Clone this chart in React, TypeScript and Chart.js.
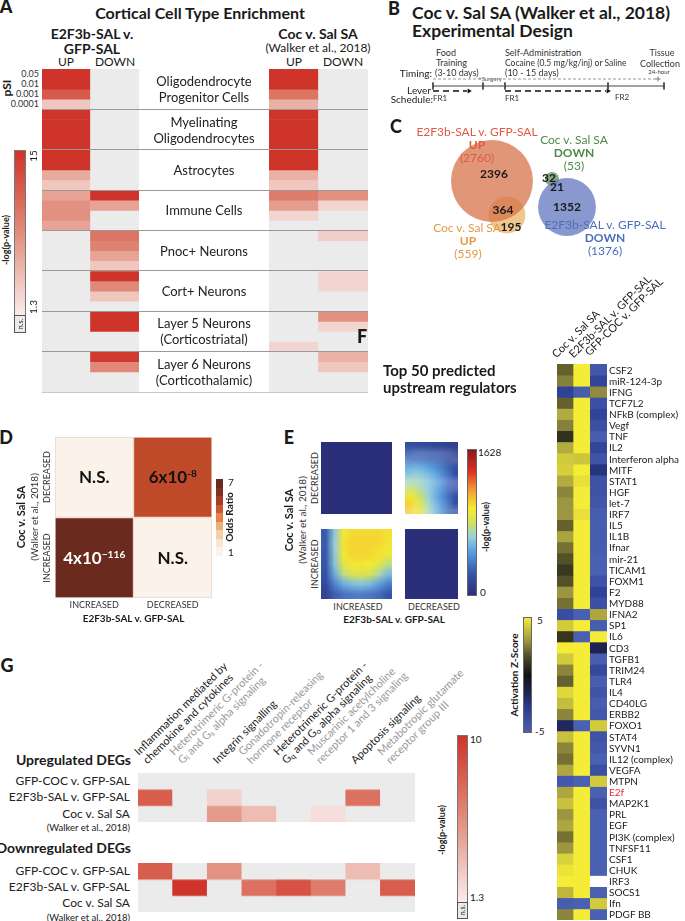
import React, { useEffect, useRef } from "react";
import { Chart, registerables } from "chart.js";
Chart.register(...registerables);

// ================= DATA =================
const N = null;
// Panel A: -log(p) per pSI level (0.05, 0.01, 0.001, 0.0001) for each cell type
const cellTypes = [
  "Oligodendrocyte\nProgenitor Cells",
  "Myelinating\nOligodendrocytes",
  "Astrocytes",
  "Immune Cells",
  "Pnoc+ Neurons",
  "Cort+ Neurons",
  "Layer 5 Neurons\n(Corticostriatal)",
  "Layer 6 Neurons\n(Corticothalamic)",
];
const psiLevels = ["0.05", "0.01", "0.001", "0.0001"];
const e2f3bUp = [15, 15, 12, 4, 15, 15, 15, 15, 15, 15, 6, 4, 6.5, 8, 8, 6.5, N, N, N, N, N, N, N, N, N, N, N, N, N, N, N, N];
const e2f3bDown = [N, N, N, N, N, N, N, N, N, N, N, N, 15, 6.5, N, N, 10, 9, 6.5, 4, 15, 8.5, 4, N, 15, 15, N, N, 14.5, 8.5, N, N];
const cocUp = [15, 15, 10, 5.5, 15, 15, 15, 15, 15, 15, 5.5, 4, 9.5, 7, 3, N, N, N, N, N, N, N, N, N, N, N, N, 3, N, N, N, N];
const cocDown = [N, N, N, N, N, N, N, N, N, N, N, N, 8, 3, N, N, 3.5, N, N, N, 3, 3, N, N, 8, 3, N, N, 5.5, 4, N, N];

// Panel B timeline (schematic units)
const timelineMarks = [0, 50, 72, 175, 231];
const timingSpan = [0, 225];
const leverRuns = [[0, 36], [72, 175]];

// Panel C Venn
const vennTotals = [2760, 559, 1376, 53];
const vennX = [52, 67, 127, 112];
const vennY = [56, 90, 82, 54];

// Panel D
const dRowLabels = ["DECREASED", "INCREASED"];
const dColLabels = ["INCREASED", "DECREASED"];
const oddsRatio = [
  [1, 5],
  [7, 1],
];
const overlapP = [
  ["N.S.", "6x10^-8"],
  ["4x10^\u2212116", "N.S."],
];

// Panel E RRHO (-log p, max 1628)
const rrhoDecInc = [[0]];
const rrhoIncDec = [[0]];
const rrhoDecDec = [
  [200, 200, 180, 170, 160, 150, 120, 100],
  [330, 330, 320, 300, 280, 250, 200, 150],
  [540, 560, 540, 500, 450, 380, 300, 200],
  [650, 660, 630, 590, 520, 430, 330, 220],
  [780, 770, 700, 630, 540, 440, 340, 220],
  [950, 900, 780, 660, 560, 450, 340, 220],
  [1050, 1000, 850, 700, 570, 450, 330, 210],
  [1080, 1020, 860, 690, 550, 430, 310, 200],
];
const rrhoIncInc = [
  [250, 620, 980, 1020, 1020, 1020, 1020, 1000],
  [250, 640, 1000, 1030, 1030, 1030, 1020, 990],
  [240, 620, 980, 1030, 1030, 1020, 990, 930],
  [230, 600, 900, 980, 990, 970, 900, 760],
  [210, 520, 760, 850, 870, 830, 720, 580],
  [170, 380, 520, 580, 600, 560, 480, 380],
  [120, 250, 320, 350, 360, 340, 300, 230],
  [60, 120, 150, 160, 160, 150, 130, 100],
];

// Panel F
const fColumns = ["Coc v. Sal SA", "E2F3b-SAL v. GFP-SAL", "GFP-COC v. GFP-SAL"];
const regulators = [
  "CSF2", "miR-124-3p", "IFNG", "TCF7L2", "NFkB (complex)", "Vegf", "TNF", "IL2", "Interferon alpha", "MITF",
  "STAT1", "HGF", "let-7", "IRF7", "IL5", "IL1B", "Ifnar", "mir-21", "TICAM1", "FOXM1",
  "F2", "MYD88", "IFNA2", "SP1", "IL6", "CD3", "TGFB1", "TRIM24", "TLR4", "IL4",
  "CD40LG", "ERBB2", "FOXO1", "STAT4", "SYVN1", "IL12 (complex)", "VEGFA", "MTPN", "E2f", "MAP2K1",
  "PRL", "EGF", "PI3K (complex)", "TNFSF11", "CSF1", "CHUK", "IRF3", "SOCS1", "Ifn", "PDGF BB",
];
const zCoc = [
  2.0, 2.6, -3.2, 2.0, 3.5, 2.6, 0.9, 3.5, 4.2, 4.3,
  3.5, 2.7, 3.0, 3.0, 2.0, 3.3, 2.3, 1.7, 1.1, 1.7,
  3.0, 2.3, -3.8, 4.2, 1.0, 5, 4.2, 2.7, 2.0, 4.5,
  3.9, 2.7, -1.8, 4.0, 2.7, 2.3, 3.4, -4.5, 3.4, 4.0,
  3.0, 3.4, 2.3, 3.0, 4.4, 4.8, 5, 3.8, -4.8, 2.7,
];
const zE2f = [
  5, 5, -4.8, 5, 5, 5, 5, 5, 4.1, 5,
  4.7, 5, 5, 4.7, 5, 5, 5, 5, 5, 5,
  5, 5, -5, 5, -5, 5, 5, 5, 5, 5,
  5, 5, -5, 5, 5, 5, 5, -5, 5, 5,
  5, 5, 5, 5, 5, 5, 5, 5, -5, 5,
];
const zGfpCoc = [
  -4.5, -3.4, 2.8, -4, -3.3, -4, -4.8, -3.4, -4.3, -2.5,
  -4.2, -4.2, -4.4, -4.8, -4.8, -4.8, -4.8, -5, -5, -4.2,
  -3.2, -4, 3.4, -4.8, 5, -1.5, -4.8, -3.6, -4.8, -4.3,
  -4.8, -4.5, 4.2, -4.3, -4.5, -5, -4, 4.2, -5, -4.2,
  -5, -5, -5, -5, -5, -5, N, -5, 4.2, -5,
];

// Panel G
const pathways = [
  "Inflammation mediated by\nchemokine and cytokines",
  "Heterotrimeric G-protein -\nG_i and G_s alpha signaling",
  "Integrin signalling",
  "Gonadotropin-releasing\nhormone receptor",
  "Heterotrimeric G-protein -\nG_q and G_o alpha signaling",
  "Muscarinic acetylcholine\nreceptor 1 and 3 signaling",
  "Apoptosis signaling",
  "Metabotropic glutamate\nreceptor group III",
];
const comparisons = ["GFP-COC v. GFP-SAL", "E2F3b-SAL v. GFP-SAL", "Coc v. Sal SA"];
const gUp = [
  [N, N, N, N, N, N, N, N],
  [8, N, 2.5, N, N, N, 7, N],
  [N, N, 5, 3.5, N, 2, N, N],
];
const gDown = [
  [8, N, 5.5, N, N, N, 3.5, N],
  [N, 10, N, 7, 8.5, 6.5, N, 8],
  [N, N, N, N, N, N, N, N],
];

// ================= COLOURS =================
type Stops = [number, number[]][];
const FONT = "Lato, 'Open Sans', 'DejaVu Sans', sans-serif";
const redStops: Stops = [[0, [248, 236, 236]], [0.4, [230, 160, 145]], [0.7, [218, 105, 88]], [1, [207, 52, 42]]];
const zStops: Stops = [[0, [74, 96, 176]], [0.2, [44, 62, 150]], [0.35, [30, 34, 80]], [0.5, [18, 18, 18]], [0.65, [72, 70, 36]], [0.8, [156, 150, 66]], [1, [245, 236, 55]]];
const eStops: Stops = [[0, [43, 47, 122]], [0.15, [55, 85, 170]], [0.3, [90, 160, 225]], [0.4, [150, 210, 220]], [0.5, [210, 225, 90]], [0.6, [245, 233, 50]], [0.72, [240, 160, 50]], [0.85, [220, 50, 35]], [1, [140, 25, 25]]];
const dStops: Stops = [[0, [251, 243, 234]], [1 / 6, [247, 225, 200]], [2 / 6, [240, 190, 140]], [3 / 6, [230, 130, 70]], [4 / 6, [191, 74, 42]], [5 / 6, [140, 50, 30]], [1, [107, 42, 30]]];

function lerp(stops: Stops, t: number) {
  t = Math.max(0, Math.min(1, t));
  for (let i = 1; i < stops.length; i++) {
    const [t1, c1] = stops[i];
    const [t0, c0] = stops[i - 1];
    if (t <= t1) {
      const f = (t - t0) / (t1 - t0 || 1);
      return `rgb(${c0.map((c, k) => Math.round(c + (c1[k] - c) * f)).join(",")})`;
    }
  }
  return `rgb(${stops[stops.length - 1][1].join(",")})`;
}
const grad = (stops: Stops, dir = "to top") =>
  `linear-gradient(${dir}, ${stops.map(([t, c]) => `rgb(${c.join(",")}) ${(t * 100).toFixed(1)}%`).join(", ")})`;
const NS_GREY = "#EBEBEB";
const redA = (v: number | null) => (v == null ? NS_GREY : lerp(redStops, (v - 1.3) / (15 - 1.3)));
const redG = (v: number | null) => (v == null ? NS_GREY : lerp(redStops, (v - 1.3) / (10 - 1.3)));
const zCol = (v: number | null) => (v == null ? "#FFFFFF" : lerp(zStops, (v + 5) / 10));
const eCol = (v: number | null) => lerp(eStops, (v ?? 0) / 1628);
const dCol = (v: number | null) => lerp(dStops, ((v ?? 1) - 1) / 6);

// ================= CHART HELPERS =================
const BASE: any = {
  responsive: false,
  animation: false,
  events: [],
  layout: { padding: 0, autoPadding: false },
  plugins: { legend: { display: false }, tooltip: { enabled: false } },
};

function heatConfig(values: (number | null)[][], color: (v: number | null) => string, extra: any) {
  const nRows = values.length;
  return {
    type: "bar",
    data: {
      labels: values[0].map((_, i) => String(i)),
      datasets: values.map((row, r) => ({
        data: row.map(() => [r, r + 1]),
        backgroundColor: row.map(color),
        borderWidth: extra.bw ?? 0,
        borderColor: extra.bc ?? "rgba(0,0,0,0)",
        borderSkipped: false,
        barPercentage: 1,
        categoryPercentage: 1,
        grouped: false,
      })),
    },
    options: {
      ...BASE,
      devicePixelRatio: extra.dpr ?? 1,
      scales: {
        x: { display: false, offset: true },
        y: { display: false, min: 0, max: nRows, reverse: true },
      },
    },
  };
}

function ChartCanvas({ left, top, width, height, make }: any) {
  const ref = useRef<HTMLCanvasElement>(null);
  useEffect(() => {
    const ch = new Chart(ref.current as HTMLCanvasElement, make());
    return () => ch.destroy();
  }, []);
  return <canvas ref={ref} width={width} height={height} style={{ position: "absolute", left, top, width, height }} />;
}

function Heat({ left, top, width, height, values, color, bw, bc, smooth }: any) {
  const make = () =>
    heatConfig(values, color, { bw, bc, dpr: smooth ? (values[0].length + 0.02) / width : 1 });
  return <ChartCanvas left={left} top={top} width={width} height={height} make={make} />;
}

function T({ x, y, s = 11, b = false, c = "#1a1a1a", a = "c", rot = 0, lh, children, w }: any) {
  const tx = a === "c" ? "-50%" : a === "r" ? "-100%" : "0%";
  return (
    <div
      style={{
        position: "absolute",
        left: x,
        top: y,
        transform: `translate(${tx},-50%)` + (rot ? ` rotate(${rot}deg)` : ""),
        fontSize: s,
        fontWeight: w ?? (b ? 700 : 400),
        color: c,
        whiteSpace: "pre",
        lineHeight: lh ? `${lh}px` : 1.2,
        textAlign: a === "c" ? "center" : a === "r" ? "right" : "left",
        fontFamily: FONT,
      }}
    >
      {children}
    </div>
  );
}

function rich(s: string) {
  return s.split(/(_\w)/).map((p, i) =>
    p.startsWith("_") ? (
      <sub key={i} style={{ fontSize: "70%", lineHeight: 0, verticalAlign: "-0.2em" }}>{p.slice(1)}</sub>
    ) : (
      <React.Fragment key={i}>{p}</React.Fragment>
    )
  );
}

function R45({ x, y, s = 11, c = "#1a1a1a", lh = 12, children }: any) {
  return (
    <div
      style={{
        position: "absolute",
        left: x,
        bottom: 921 - y,
        transformOrigin: "0% 100%",
        transform: "rotate(-45deg)",
        fontSize: s,
        color: c,
        lineHeight: `${lh}px`,
        whiteSpace: "pre",
        fontFamily: FONT,
      }}
    >
      {children}
    </div>
  );
}

function Box({ left, top, width, height, bg, border }: any) {
  return (
    <div
      style={{
        position: "absolute",
        left,
        top,
        width,
        height,
        background: bg,
        border: border ?? "none",
        boxSizing: "border-box",
      }}
    />
  );
}

function Sci({ s }: { s: string }) {
  const [m, e] = s.split("^");
  return (
    <>
      {m}
      {e !== undefined && <sup style={{ fontSize: "60%", lineHeight: 0, verticalAlign: "0.6em" }}>{e}</sup>}
    </>
  );
}

// ================= PANELS =================
function PanelA() {
  const top = 69;
  const h = 323;
  const gh = h / cellTypes.length;
  const left1 = e2f3bUp.map((v, i) => [v, e2f3bDown[i]]);
  const right1 = cocUp.map((v, i) => [v, cocDown[i]]);
  return (
    <>
      <T x={6} y={7} s={18} w={900}>A</T>
      <T x={200} y={13} s={16} b>Cortical Cell Type Enrichment</T>
      <T x={92} y={34} s={14} b>E2F3b-SAL v.</T>
      <T x={92} y={49} s={14} b>GFP-SAL</T>
      <T x={66} y={62} s={12}>UP</T>
      <T x={115} y={62} s={12}>DOWN</T>
      <T x={318} y={34} s={14} b>Coc v. Sal SA</T>
      <T x={318} y={48} s={12}>(Walker et al., 2018)</T>
      <T x={294} y={62} s={12}>UP</T>
      <T x={343} y={62} s={12}>DOWN</T>
      {psiLevels.map((p, i) => (
        <T key={p} x={39} y={top + 5 + i * (gh / 4)} s={9} a="r" c="#333">{p}</T>
      ))}
      <T x={7} y={88} s={12} b rot={-90}>pSI</T>
      <Heat left={42} top={top} width={97} height={h} values={left1} color={redA} />
      <Heat left={269} top={top} width={99} height={h} values={right1} color={redA} />
      {cellTypes.map((_, k) =>
        k > 0 ? <Box key={k} left={42} top={top + gh * k - 0.5} width={326} height={1} bg="#999" /> : null
      )}
      <Box left={42} top={top + h - 0.5} width={326} height={1} bg="#c8c8c8" />
      {cellTypes.map((c, k) => (
        <T key={c} x={204} y={top + gh * (k + 0.5)} s={13} lh={16} c="#222">{c}</T>
      ))}
      <Box left={14} top={150} width={12} height={166} bg={grad(redStops)} border="1px solid #777" />
      <Box left={14} top={315} width={12} height={18} bg={NS_GREY} border="1px solid #555" />
      <T x={20} y={324} s={7} rot={-90}>n.s.</T>
      <T x={33} y={156} s={10} rot={-90}>15</T>
      <T x={33} y={307} s={10} rot={-90}>1.3</T>
      <T x={6} y={240} s={9} b rot={-90}>-log(p-value)</T>
    </>
  );
}

function PanelB() {
  const make = () => {
    const yT = 9, yA = 16, yL = 21;
    const ds: any[] = [];
    ds.push({ data: timingSpan.map((x) => ({ x, y: yT })), showLine: true, borderColor: "#9a9a9a", borderWidth: 1, borderDash: [3, 2], pointRadius: 0 });
    ds.push({ data: [{ x: timingSpan[1], y: yT }], pointStyle: "cross", pointRadius: 2.5, borderColor: "#777", borderWidth: 1 });
    ds.push({ data: [timelineMarks[0], timelineMarks[timelineMarks.length - 1]].map((x) => ({ x, y: yA })), showLine: true, borderColor: "#444", borderWidth: 1, pointRadius: 0 });
    timelineMarks.forEach((m) =>
      ds.push({ data: [{ x: m, y: yA - 3.5 }, { x: m, y: yA + 3.5 }], showLine: true, borderColor: "#444", borderWidth: 1, pointRadius: 0 })
    );
    leverRuns.forEach(([a, b]) => {
      ds.push({ data: [{ x: a, y: yL }, { x: b - 2, y: yL }], showLine: true, borderColor: "#111", borderWidth: 1.3, borderDash: [6, 4], pointRadius: 0 });
      ds.push({ data: [{ x: b, y: yL }], pointStyle: "triangle", rotation: 90, pointRadius: 2.8, backgroundColor: "#111", borderColor: "#111", borderWidth: 0 });
    });
    return {
      type: "scatter",
      data: { datasets: ds },
      options: {
        ...BASE,
        scales: { x: { display: false, min: -8, max: 242 }, y: { display: false, min: 0, max: 30, reverse: true } },
      },
    };
  };
  return (
    <>
      <T x={394} y={9} s={18} w={900}>B</T>
      <T x={412} y={12} s={17.5} b a="l">Coc v. Sal SA (Walker et al., 2018)</T>
      <T x={412} y={30} s={17.5} b a="l">Experimental Design</T>
      <T x={436} y={53} s={9} a="l" c="#333">Food</T>
      <T x={436} y={63} s={9} a="l" c="#333">Training</T>
      <T x={432} y={73} s={10} a="r" c="#222">Timing:</T>
      <T x={435} y={73} s={9} a="l" c="#333">(3-10 days)</T>
      <T x={490} y={79} s={6} c="#555">+Surgery</T>
      <T x={505} y={53} s={9} a="l" c="#333">Self-Administration</T>
      <T x={505} y={63} s={8.5} a="l" c="#333">Cocaine (0.5 mg/kg/inj) or Saline</T>
      <T x={505} y={73} s={9} a="l" c="#333">(10 - 15 days)</T>
      <T x={662} y={53} s={9} c="#333">Tissue</T>
      <T x={660} y={64} s={9} c="#333">Collection</T>
      <T x={659} y={72} s={6} c="#333">24-hour</T>
      <T x={431} y={90} s={10} a="r" c="#222">Lever</T>
      <T x={433} y={99} s={10} a="r" c="#222">Schedule:</T>
      <T x={433} y={99} s={8} a="l" c="#333">FR1</T>
      <T x={505} y={99} s={8} a="l" c="#333">FR1</T>
      <T x={615} y={98} s={8} a="l" c="#333">FR2</T>
      <ChartCanvas left={425} top={70} width={250} height={30} make={make} />
    </>
  );
}

function PanelC() {
  const fills = ["rgba(215,115,75,0.75)", "rgba(228,160,62,0.6)", "rgba(98,118,190,0.75)", "rgba(100,150,95,0.8)"];
  const make = () => ({
    type: "bubble",
    data: {
      datasets: vennTotals.map((tot, i) => ({
        data: [{ x: vennX[i], y: vennY[i], r: 0.78 * Math.sqrt(tot) + (tot < 100 ? 1.3 : 0) }],
        backgroundColor: fills[i],
        borderWidth: 0,
      })),
    },
    options: {
      ...BASE,
      clip: false,
      scales: { x: { display: false, min: 0, max: 180 }, y: { display: false, min: 0, max: 125, reverse: true } },
    },
  });
  const red = "#E05A45", orn = "#E39A45", grn = "#4A8A4A", blu = "#4A70B8";
  return (
    <>
      <T x={396} y={127} s={18} w={900}>C</T>
      <ChartCanvas left={440} top={125} width={180} height={125} make={make} />
      <T x={477} y={132} s={12} c={red}>E2F3b-SAL v. GFP-SAL</T>
      <T x={477} y={145} s={12} b c={red}>UP</T>
      <T x={477} y={158} s={12} c={red}>(2760)</T>
      <T x={494} y={174} s={12} b>2396</T>
      <T x={503} y={210} s={12} b>364</T>
      <T x={511} y={227} s={12} b>195</T>
      <T x={467} y={228} s={12} c={orn}>Coc v. Sal SA</T>
      <T x={468} y={241} s={12} b c={orn}>UP</T>
      <T x={468} y={254} s={12} c={orn}>(559)</T>
      <T x={574} y={140} s={12} c={grn}>Coc v. Sal SA</T>
      <T x={574} y={153} s={12} b c={grn}>DOWN</T>
      <T x={574} y={166} s={12} c={grn}>(53)</T>
      <T x={549} y={178} s={12} b>32</T>
      <T x={557} y={187} s={12} b>21</T>
      <T x={567} y={207} s={12} b>1352</T>
      <T x={605} y={225} s={12} c={blu}>E2F3b-SAL v. GFP-SAL</T>
      <T x={605} y={238} s={12} b c={blu}>DOWN</T>
      <T x={605} y={251} s={12} c={blu}>(1376)</T>
    </>
  );
}

function PanelD() {
  const x0 = 55, y0 = 437, w = 157, h = 161;
  const dSteps: Stops = [];
  const n = 9;
  for (let i = 0; i < n; i++) {
    const c = dCol(1 + (6 * i) / (n - 1)).slice(4, -1).split(",").map(Number);
    dSteps.push([i / n, c]);
    dSteps.push([(i + 1) / n, c]);
  }
  return (
    <>
      <T x={6} y={438} s={18} w={900}>D</T>
      <Heat left={x0} top={y0} width={w} height={h} values={oddsRatio} color={dCol} bw={1} bc="#E8D6CC" />
      {overlapP.map((row, r) =>
        row.map((s, c) => (
          <T key={`${r}${c}`} x={x0 + (w / 2) * (c + 0.5)} y={y0 + (h / 2) * (r + 0.5)} s={17} b c={oddsRatio[r][c] > 6 ? "#fff" : "#111"}>
            <Sci s={s} />
          </T>
        ))
      )}
      {dColLabels.map((l, c) => (
        <T key={l} x={x0 + (w / 2) * (c + 0.5)} y={605} s={9} c="#333">{l}</T>
      ))}
      <T x={x0 + w / 2} y={618} s={10} b>E2F3b-SAL v. GFP-SAL</T>
      {dRowLabels.map((l, r) => (
        <T key={l} x={47} y={y0 + (h / 2) * (r + 0.5)} s={9} c="#333" rot={-90}>{l}</T>
      ))}
      <T x={34} y={517} s={10} c="#333" rot={-90}>(Walker et al., 2018)</T>
      <T x={21} y={517} s={11} b rot={-90}>Coc v. Sal SA</T>
      <Box left={216} top={479} width={7} height={77} bg={grad(dSteps)} />
      <T x={228} y={482} s={10} a="l">7</T>
      <T x={228} y={552} s={10} a="l">1</T>
      <T x={229} y={517} s={10} b rot={-90}>Odds Ratio</T>
    </>
  );
}

function PanelE() {
  return (
    <>
      <T x={289} y={438} s={18} w={900}>E</T>
      <Heat left={321} top={442} width={71} height={72} values={rrhoDecInc} color={eCol} smooth />
      <Heat left={405} top={442} width={53} height={72} values={rrhoDecDec} color={eCol} smooth />
      <Heat left={321} top={529} width={71} height={70} values={rrhoIncInc} color={eCol} smooth />
      <Heat left={405} top={529} width={53} height={70} values={rrhoIncDec} color={eCol} smooth />
      <T x={315} y={478} s={9} c="#333" rot={-90}>DECREASED</T>
      <T x={315} y={564} s={9} c="#333" rot={-90}>INCREASED</T>
      <T x={302} y={520} s={10} c="#333" rot={-90}>(Walker et al., 2018)</T>
      <T x={289} y={520} s={11} b rot={-90}>Coc v. Sal SA</T>
      <T x={358} y={607} s={9} c="#333">INCREASED</T>
      <T x={434} y={607} s={9} c="#333">DECREASED</T>
      <T x={394} y={619} s={10} b>E2F3b-SAL v. GFP-SAL</T>
      <Box left={467} top={449} width={10} height={147} bg={grad(eStops)} border="1px solid #666" />
      <T x={478} y={452} s={10} a="l">1628</T>
      <T x={480} y={592} s={10} a="l">0</T>
      <T x={486} y={527} s={9} b rot={-90}>-log(p-value)</T>
    </>
  );
}

function PanelF() {
  const top = 364, h = 556;
  const rh = h / regulators.length;
  const values = regulators.map((_, i) => [zCoc[i], zE2f[i], zGfpCoc[i]]);
  return (
    <>
      <T x={362} y={337} s={18} w={900}>F</T>
      <T x={383} y={370} s={15} b a="l">Top 50 predicted</T>
      <T x={383} y={387} s={15} b a="l">upstream regulators</T>
      <Heat left={557} top={top} width={50} height={h} values={values} color={zCol} />
      {fColumns.map((c, i) => (
        <R45 key={c} x={558 + i * 16.5} y={360 - (i === 2 ? 2 : 0)} s={11}>{c}</R45>
      ))}
      {regulators.map((r, i) => (
        <T key={r} x={609} y={top + rh * (i + 0.5)} s={10} a="l" c={r === "E2f" ? "#E0303A" : "#1a1a1a"}>{r}</T>
      ))}
      <Box left={523} top={617} width={9} height={116} bg={grad(zStops)} border="1px solid #666" />
      <T x={537} y={620} s={10} a="l">5</T>
      <T x={535} y={731} s={10} a="l">-5</T>
      <T x={514} y={675} s={10} b rot={-90}>Activation Z-Score</T>
    </>
  );
}

function PanelG() {
  const x0 = 138, w = 277;
  const cw = w / pathways.length;
  const up0 = 773, dn0 = 862.7, rh = 16.3;
  return (
    <>
      <T x={7} y={666} s={18} w={900}>G</T>
      {pathways.map((p, i) => (
        <R45 key={p} x={x0 + cw * (i + 0.5) - 6} y={766} s={11} c={i % 2 === 0 ? "#1a1a1a" : "#999"}>
          {p.split("\n").map((ln, k) => (
            <div key={k}>{rich(ln)}</div>
          ))}
        </R45>
      ))}
      <T x={131} y={760} s={14} b a="r">Upregulated DEGs</T>
      <T x={131} y={848} s={14} b a="r">Downregulated DEGs</T>
      {[up0, dn0].map((y0) => (
        <React.Fragment key={y0}>
          {comparisons.map((c, r) => (
            <T key={c} x={130} y={y0 + rh * (r + 0.5)} s={12} a="r" c="#222">{c}</T>
          ))}
          <T x={130} y={y0 + rh * 3 + 6} s={9.5} a="r" c="#222">(Walker et al., 2018)</T>
        </React.Fragment>
      ))}
      <Heat left={x0} top={up0} width={w} height={rh * 3} values={gUp} color={redG} />
      <Heat left={x0} top={dn0} width={w} height={rh * 3} values={gDown} color={redG} />
      <Box left={457} top={735} width={11} height={168} bg={grad(redStops)} border="1px solid #777" />
      <Box left={457} top={902} width={11} height={17} bg={NS_GREY} border="1px solid #555" />
      <T x={462} y={910} s={7} rot={-90}>n.s.</T>
      <T x={470} y={739} s={10} a="l">10</T>
      <T x={470} y={897} s={10} a="l">1.3</T>
      <T x={442} y={830} s={9} b rot={-90}>-log(p-value)</T>
    </>
  );
}

export default function App() {
  return (
    <div
      style={{
        position: "absolute",
        left: 0,
        top: 0,
        width: 685,
        height: 921,
        overflow: "hidden",
        background: "#fff",
        fontFamily: FONT,
      }}
    >
      <PanelA />
      <PanelB />
      <PanelC />
      <PanelD />
      <PanelE />
      <PanelF />
      <PanelG />
    </div>
  );
}
